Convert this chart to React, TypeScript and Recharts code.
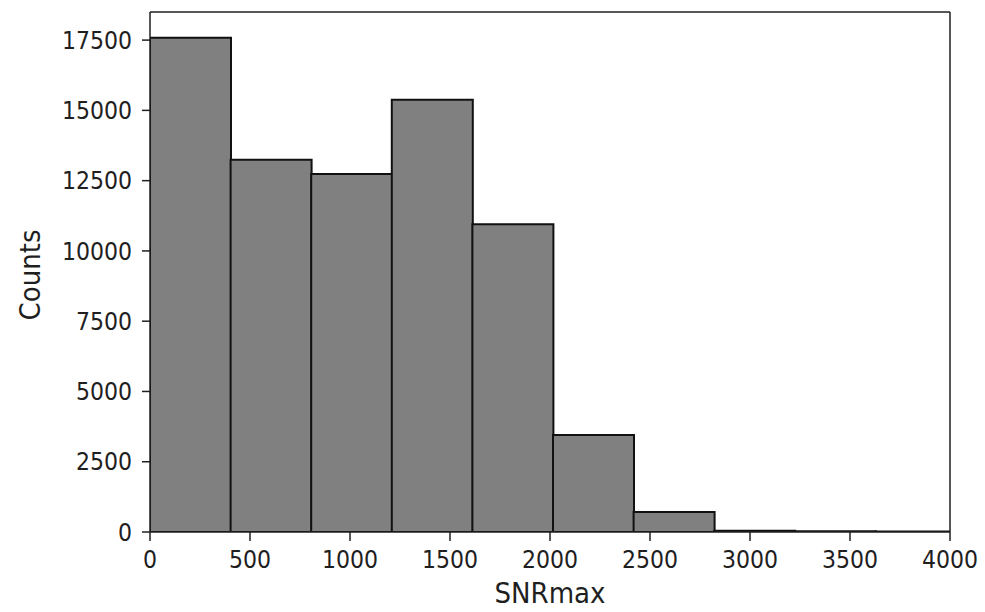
import { Bar, BarChart, ReferenceLine, XAxis, YAxis } from 'recharts'

// 10 equal-width histogram bins (edges in SNRmax units), last one runs past the 4000 limit
const binStarts = [0, 403, 806, 1209, 1612, 2015, 2418, 2821, 3224, 3627]
const binWidth = 403
const counts = [17580, 13240, 12740, 15380, 10950, 3450, 710, 45, 25, 15]

const xTicks = [0, 500, 1000, 1500, 2000, 2500, 3000, 3500, 4000]
const yTicks = [0, 2500, 5000, 7500, 10000, 12500, 15000, 17500]
const xMax = 4000
const yMax = 18500

const data = binStarts.map((lo, i) => ({ mid: lo + binWidth / 2, count: counts[i] }))

const font = "'DejaVu Sans Condensed', 'DejaVu Sans', sans-serif"
const ink = '#1f1f1f'
const tickStyle = { fill: ink, fontSize: 24.5, fontFamily: font }

export default function App() {
  return (
    <div style={{ position: 'absolute', left: 0, top: 0 }}>
      <BarChart
        width={985}
        height={612}
        data={data}
        margin={{ top: 12, right: 35, left: 0, bottom: 0 }}
        barCategoryGap={0}
        barGap={0}
      >
        <XAxis
          dataKey="mid"
          type="number"
          domain={[0, xMax]}
          ticks={xTicks}
          allowDataOverflow
          height={80}
          tick={tickStyle}
          tickSize={9}
          tickMargin={10}
          tickLine={{ stroke: ink, strokeWidth: 1.5 }}
          axisLine={{ stroke: ink, strokeWidth: 1.5 }}
          label={{
            value: 'SNRmax',
            position: 'center',
            dy: 21,
            fill: ink,
            fontSize: 29,
            fontFamily: font,
          }}
        />
        <YAxis
          type="number"
          domain={[0, yMax]}
          ticks={yTicks}
          allowDataOverflow
          width={150}
          tick={tickStyle}
          tickSize={8}
          tickMargin={10}
          tickLine={{ stroke: ink, strokeWidth: 1.5 }}
          axisLine={{ stroke: ink, strokeWidth: 1.5 }}
          label={{
            value: 'Counts',
            position: 'center',
            angle: -90,
            dx: -45,
            dy: 3,
            fill: ink,
            fontSize: 29,
            fontFamily: font,
          }}
        />
        <Bar
          dataKey="count"
          fill="#808080"
          stroke="#111"
          strokeWidth={2}
          isAnimationActive={false}
        />
        {/* top and right spines of the matplotlib frame */}
        <ReferenceLine y={yMax} stroke={ink} strokeWidth={1.5} />
        <ReferenceLine x={xMax} stroke={ink} strokeWidth={1.5} />
      </BarChart>
    </div>
  )
}
